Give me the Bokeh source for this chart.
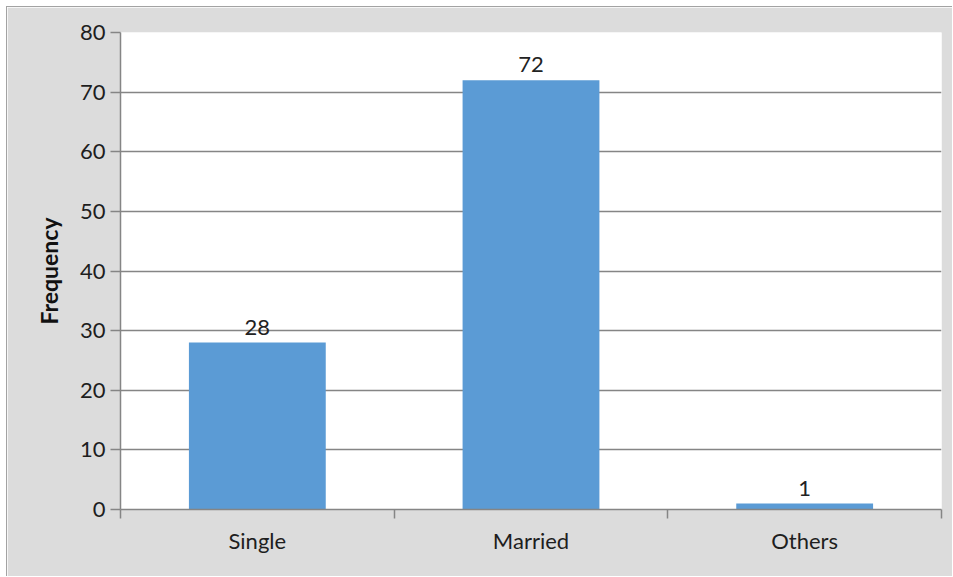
from bokeh.plotting import figure
from bokeh.models import ColumnDataSource, FixedTicker
from bokeh.embed import file_html
from bokeh.resources import INLINE
from bokeh.core.properties import value

# Marital status frequencies
categories = ["Single", "Married", "Others"]
frequency = [28, 72, 1]
y_ticks = [0, 10, 20, 30, 40, 50, 60, 70, 80]

centers = [i + 0.5 for i in range(len(categories))]
edges = list(range(len(categories) + 1))

src = ColumnDataSource(dict(
    x=centers,
    top=frequency,
    label=[str(v) for v in frequency],
))

FONT = "Lato"
GRAY = "#858585"
PANEL = "#dcdcdc"

p = figure(
    width=946, height=570,
    x_range=(0, len(categories)), y_range=(y_ticks[0], y_ticks[-1]),
    output_backend="svg", toolbar_location=None,
    min_border_left=113, min_border_right=12,
    min_border_top=25, min_border_bottom=68,
)
# white page margin with a thin grey edge round the stone-grey panel
p.margin = (6, 0, 0, 6)
p.styles = {"border-left": "1px solid #a3a3a3", "border-top": "1px solid #a3a3a3"}
p.border_fill_color = PANEL
p.background_fill_color = "white"
p.outline_line_color = None

p.vbar(x="x", top="top", width=0.5, source=src,
       fill_color="#5b9bd5", line_color=None)

p.text(x="x", y="top", text="label", source=src,
       text_align="center", text_baseline="bottom", y_offset=-8,
       text_font=value(FONT), text_font_size="22px", text_color="#222222")

# y axis
p.yaxis.ticker = FixedTicker(ticks=y_ticks)
p.yaxis.major_tick_out = 10
p.yaxis.major_tick_in = 0
p.yaxis.minor_tick_line_color = None
p.yaxis.major_tick_line_color = GRAY
p.yaxis.major_tick_line_width = 1.5
p.yaxis.axis_line_color = GRAY
p.yaxis.axis_line_width = 1.5
p.yaxis.major_label_standoff = 5
p.yaxis.major_label_text_font = FONT
p.yaxis.major_label_text_font_size = "22px"
p.yaxis.major_label_text_color = "#1e1e1e"
p.yaxis.axis_label = "Frequency"
p.yaxis.axis_label_text_font = FONT
p.yaxis.axis_label_text_font_style = "bold"
p.yaxis.axis_label_text_font_size = "23px"
p.yaxis.axis_label_text_color = "#111111"
p.yaxis.axis_label_standoff = 14

# x axis: names at category centres, ticks on category boundaries
p.xaxis.ticker = FixedTicker(ticks=centers, minor_ticks=edges)
p.xaxis.major_label_overrides = {c: n for c, n in zip(centers, categories)}
p.xaxis.major_tick_line_color = None
p.xaxis.minor_tick_out = 9
p.xaxis.minor_tick_in = 0
p.xaxis.minor_tick_line_color = GRAY
p.xaxis.minor_tick_line_width = 1.5
p.xaxis.axis_line_color = GRAY
p.xaxis.axis_line_width = 1.5
p.xaxis.major_label_standoff = 8
p.xaxis.major_label_text_font = FONT
p.xaxis.major_label_text_font_size = "22px"
p.xaxis.major_label_text_color = "#1e1e1e"

p.xgrid.visible = False
p.ygrid.ticker = FixedTicker(ticks=y_ticks)
p.ygrid.grid_line_color = GRAY
p.ygrid.grid_line_width = 1.5

open("out.html", "w").write(file_html(p, INLINE))
